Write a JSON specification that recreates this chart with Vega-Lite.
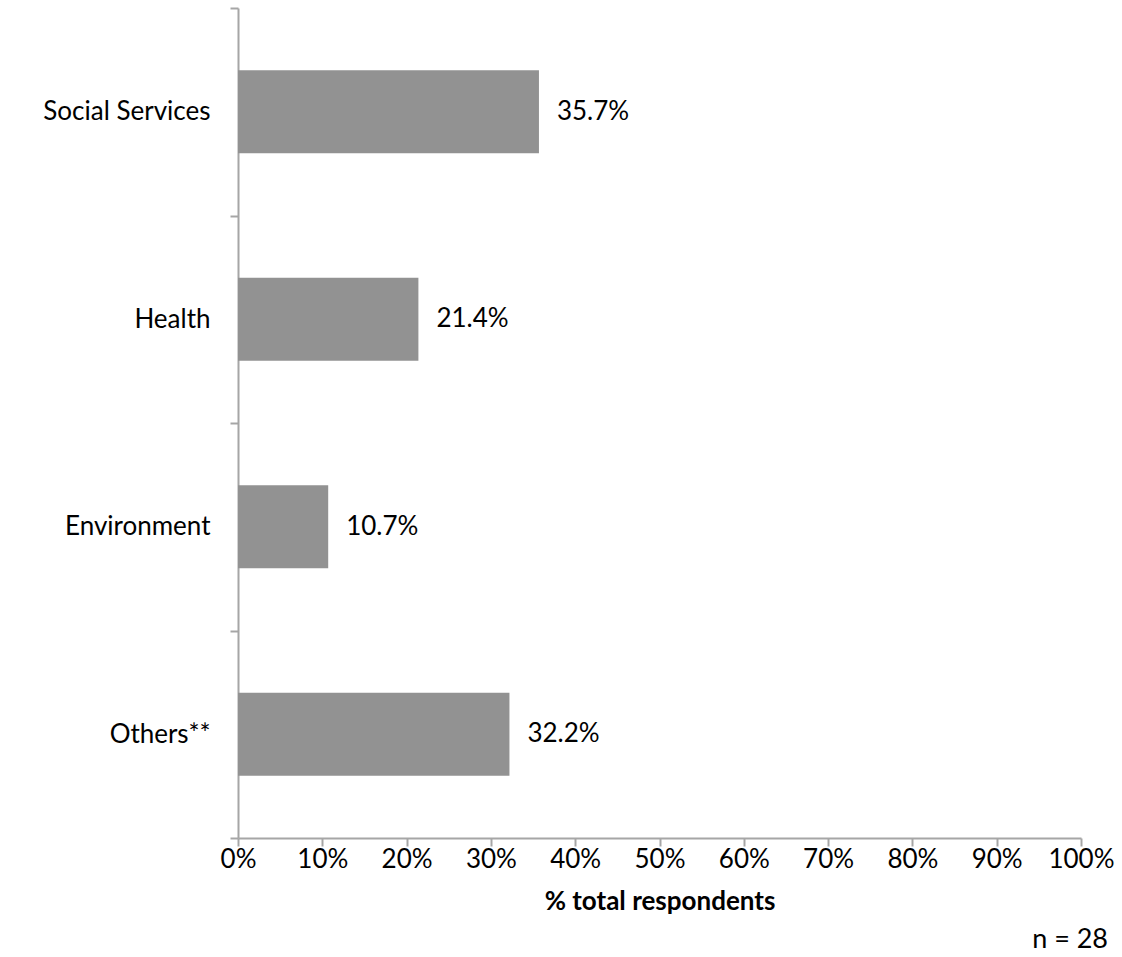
{
  "$schema": "https://vega.github.io/schema/vega-lite/v6.json",
  "width": 843,
  "height": 830,
  "autosize": {"type": "none"},
  "padding": {"left": 238, "top": 8, "right": 41, "bottom": 119},
  "background": "white",
  "config": {
    "view": {"stroke": null},
    "font": "Lato",
    "axis": {"domainColor": "#a6a6a6", "tickColor": "#a6a6a6", "grid": false, "labelColor": "#000000", "labelFont": "Lato", "titleFont": "Lato"}
  },
  "title": {
    "text": "n = 28",
    "orient": "bottom",
    "anchor": "end",
    "fontSize": 27,
    "fontWeight": "normal",
    "font": "Lato",
    "color": "#000000",
    "offset": 13,
    "dx": -6
  },
  "data": {
    "values": [
      {"category": "Social Services", "value": 0.357, "label": "35.7%"},
      {"category": "Health", "value": 0.214, "label": "21.4%"},
      {"category": "Environment", "value": 0.107, "label": "10.7%"},
      {"category": "Others**", "value": 0.322, "label": "32.2%"}
    ]
  },
  "encoding": {
    "y": {
      "field": "category",
      "type": "nominal",
      "sort": null,
      "scale": {"paddingInner": 0, "paddingOuter": 0},
      "axis": {
        "title": null,
        "labelFontSize": 26,
        "labelPadding": 20,
        "tickSize": 8,
        "tickBand": "extent",
        "domainWidth": 2,
        "tickWidth": 2
      }
    }
  },
  "layer": [
    {
      "mark": {"type": "bar", "color": "#929292", "height": {"band": 0.4}},
      "encoding": {
        "x": {
          "field": "value",
          "type": "quantitative",
          "scale": {"domain": [0, 1], "nice": false},
          "axis": {
            "format": ".0%",
            "values": [0, 0.1, 0.2, 0.3, 0.4, 0.5, 0.6, 0.7, 0.8, 0.9, 1],
            "title": "% total respondents",
            "titleFontSize": 26,
            "titleFontWeight": "bold",
            "titlePadding": 16,
            "labelFontSize": 26,
            "labelPadding": 0,
            "tickSize": 8,
            "domainWidth": 2,
            "tickWidth": 2,
            "labelFlush": false
          }
        }
      }
    },
    {
      "mark": {"type": "text", "align": "left", "dx": 18, "fontSize": 26, "color": "#000000"},
      "encoding": {
        "x": {"field": "value", "type": "quantitative"},
        "text": {"field": "label"}
      }
    }
  ]
}
